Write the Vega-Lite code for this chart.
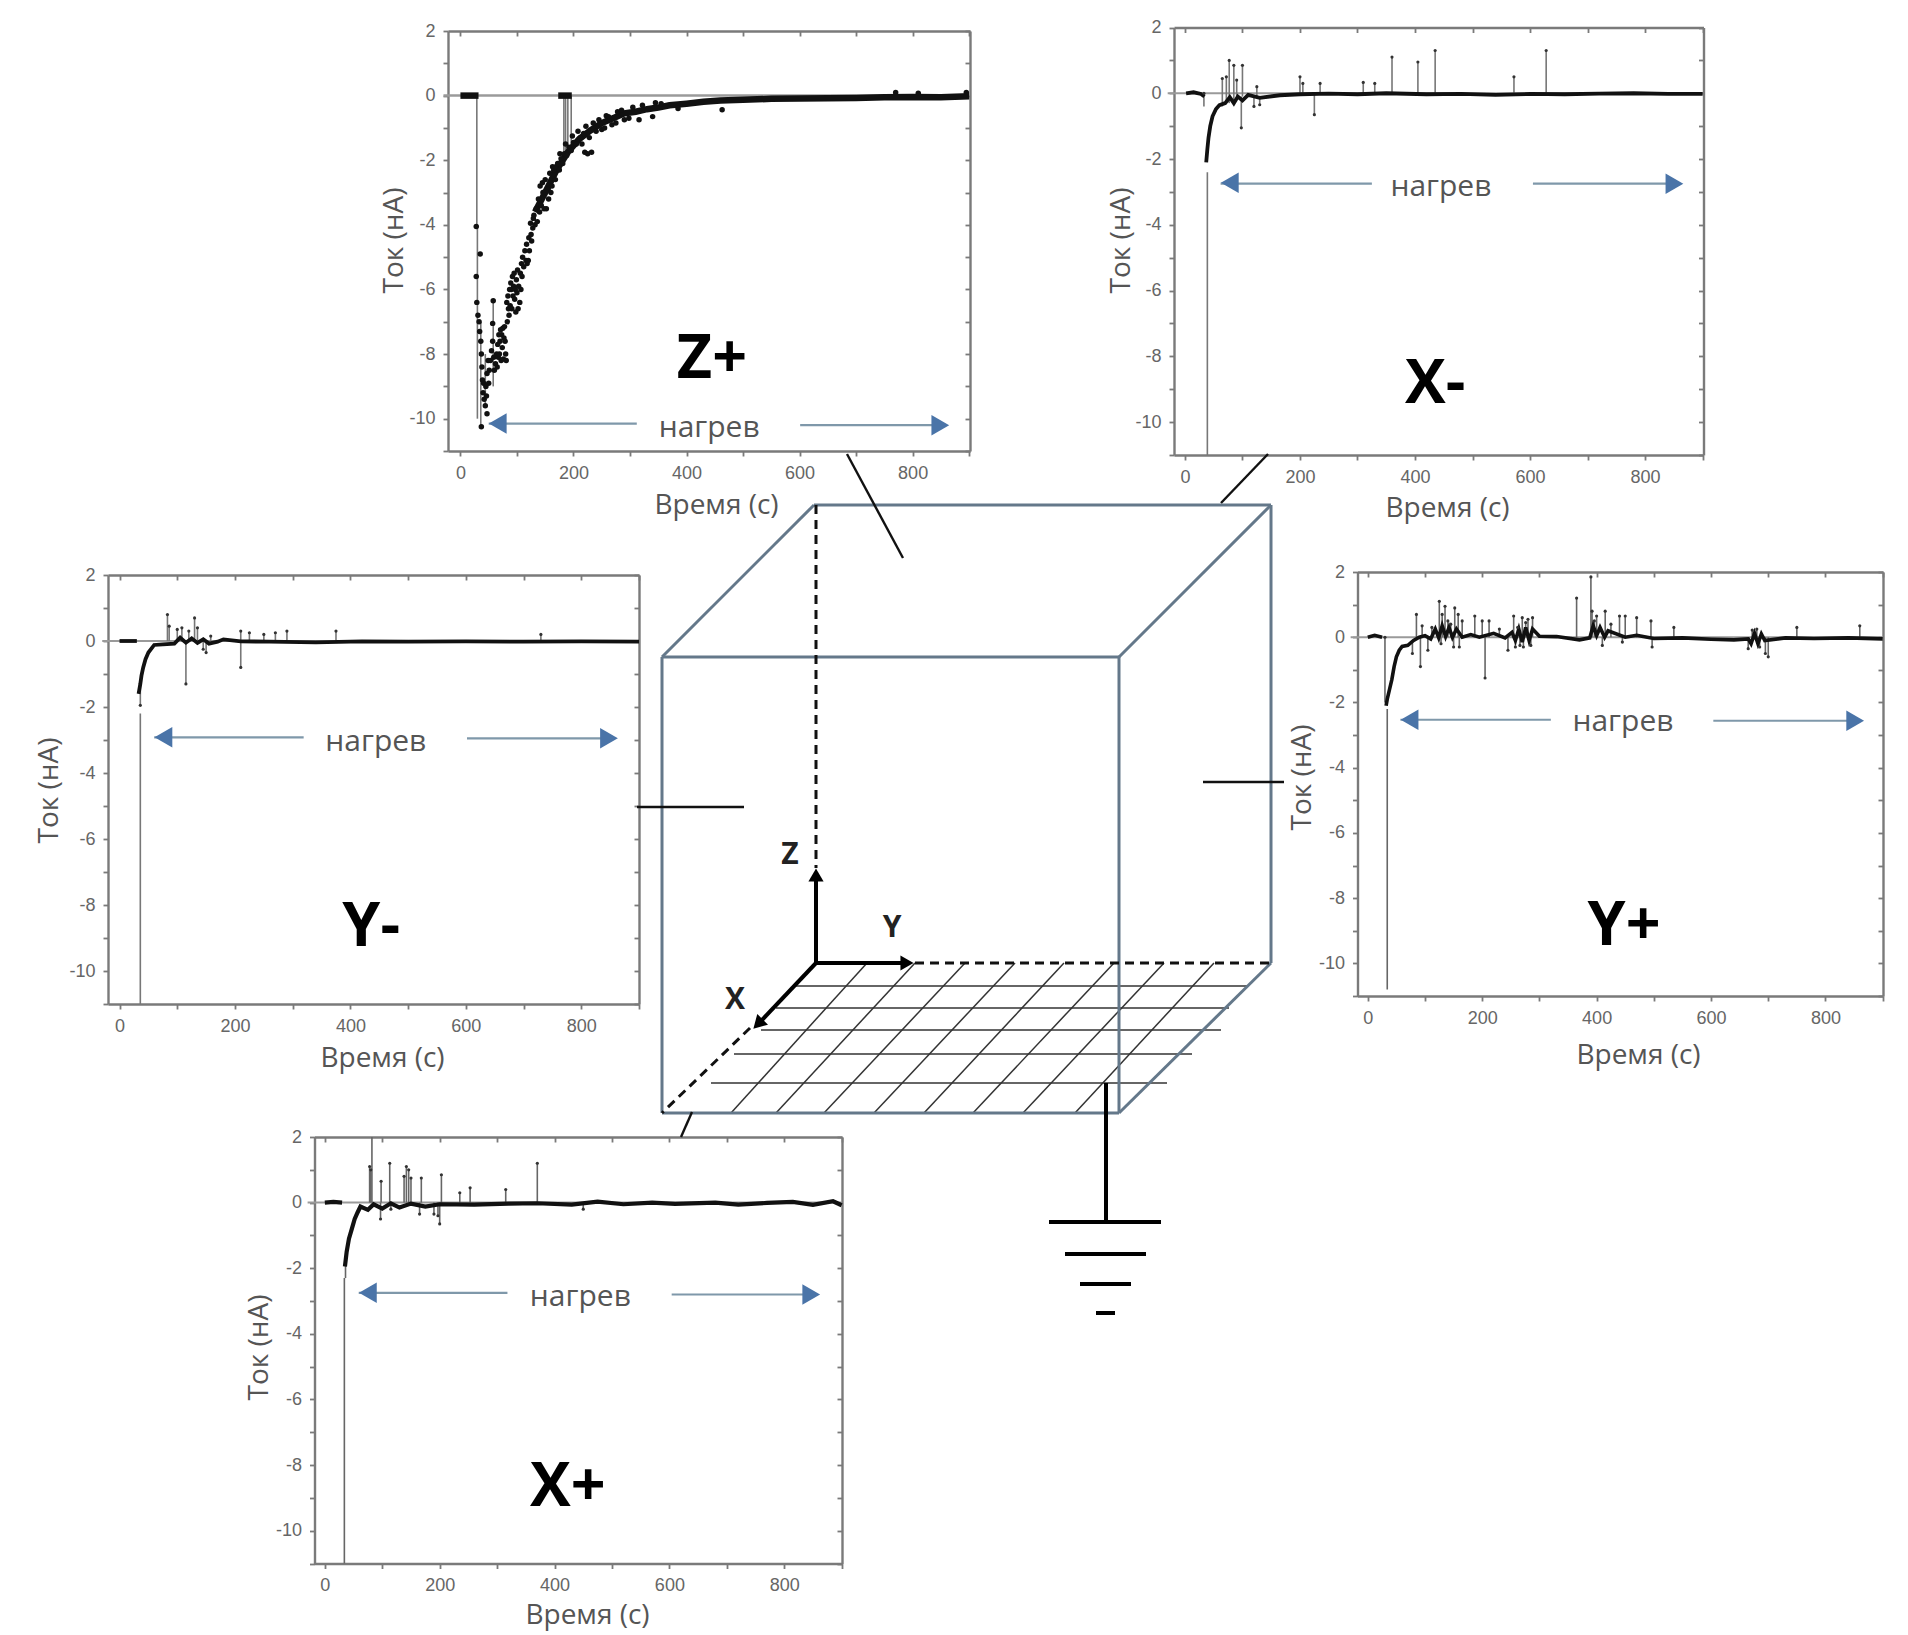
{"$schema":"https://vega.github.io/schema/vega-lite/v6.json","width":1908,"height":1635,"padding":0,"autosize":"none","background":"white","config":{"view":{"stroke":null},"axis":{"grid":false,"domainColor":"#7a7a7a","domainWidth":2.4,"tickColor":"#7a7a7a","tickWidth":1.8,"tickSize":5,"labelColor":"#666666","labelFont":"Liberation Sans","labelFontSize":18,"labelPadding":8,"labelOverlap":false,"labelBound":false,"labelFlush":false,"titleColor":"#555555","titleFont":"Open Sans","titleFontSize":28,"titleFontWeight":"normal","titleBaseline":"middle","titleAlign":"center"}},"resolve":{"scale":{"x":"independent","y":"independent"},"axis":{"x":"independent","y":"independent"}},
"datasets":{
"zero":[{"x":-30,"x2":900,"y":0}],
"zp_band":[{"g":"a","x":0,"y":0},{"g":"a","x":32,"y":0},{"g":"b","x":173,"y":0},{"g":"b","x":197,"y":0},{"g":"c","x":132,"y":-3.6},{"g":"c","x":150,"y":-3.0},{"g":"c","x":170,"y":-2.3},{"g":"c","x":190,"y":-1.75},{"g":"c","x":210,"y":-1.35},{"g":"c","x":230,"y":-1.08},{"g":"c","x":250,"y":-0.85},{"g":"c","x":270,"y":-0.7},{"g":"c","x":290,"y":-0.55},{"g":"c","x":310,"y":-0.5},{"g":"c","x":330,"y":-0.42},{"g":"c","x":350,"y":-0.37},{"g":"c","x":370,"y":-0.3},{"g":"c","x":400,"y":-0.25},{"g":"c","x":430,"y":-0.19},{"g":"c","x":460,"y":-0.15},{"g":"c","x":500,"y":-0.13},{"g":"c","x":550,"y":-0.1},{"g":"c","x":600,"y":-0.09},{"g":"c","x":650,"y":-0.08},{"g":"c","x":700,"y":-0.07},{"g":"c","x":750,"y":-0.05},{"g":"c","x":800,"y":-0.04},{"g":"c","x":850,"y":-0.05},{"g":"c","x":900,"y":-0.02}],
"zp_spk":[{"x":29,"y":0,"y2":-4.05},{"x":30,"y":-4,"y2":-10},{"x":36,"y":-7,"y2":-10.2},{"x":44,"y":-8,"y2":-9.6},{"x":58,"y":-6.3,"y2":-9},{"x":183,"y":0,"y2":-1.8},{"x":186,"y":0,"y2":-1.8},{"x":190,"y":0,"y2":-1.7},{"x":196,"y":0,"y2":-1.5}],
"zp_pts":[{"x":28,"y":-4.05},{"x":35,"y":-4.9},{"x":28,"y":-5.6},{"x":29,"y":-6.4},{"x":31,"y":-6.8},{"x":33,"y":-7},{"x":34,"y":-7.3},{"x":36,"y":-7.6},{"x":37,"y":-8},{"x":38,"y":-8.4},{"x":39,"y":-8.8},{"x":40,"y":-9.2},{"x":41,"y":-8.9},{"x":42,"y":-9.4},{"x":44,"y":-9.6},{"x":47,"y":-9.85},{"x":37,"y":-10.25},{"x":45,"y":-9},{"x":47,"y":-8.6},{"x":46,"y":-9.3},{"x":49,"y":-8.2},{"x":50,"y":-8.9},{"x":51,"y":-8.5},{"x":53,"y":-8.2},{"x":55,"y":-7.9},{"x":57,"y":-7.6},{"x":57,"y":-7.05},{"x":58,"y":-6.35},{"x":59,"y":-8.1},{"x":60,"y":-8.5},{"x":62,"y":-8.3},{"x":64,"y":-8},{"x":65,"y":-8.4},{"x":66,"y":-7.7},{"x":67,"y":-8.1},{"x":68,"y":-7.4},{"x":69,"y":-8},{"x":70,"y":-7.6},{"x":71,"y":-7.25},{"x":72,"y":-8.2},{"x":73,"y":-7.4},{"x":74,"y":-7.8},{"x":75,"y":-7.2},{"x":76,"y":-8.15},{"x":77,"y":-7.5},{"x":78,"y":-7.15},{"x":79,"y":-7.6},{"x":80,"y":-8},{"x":81,"y":-8.2},{"x":83,"y":-7},{"x":82,"y":-6.4},{"x":84,"y":-6.2},{"x":85,"y":-6.6},{"x":86,"y":-6.8},{"x":87,"y":-6},{"x":88,"y":-6.5},{"x":89,"y":-5.8},{"x":90,"y":-6},{"x":91,"y":-6.6},{"x":92,"y":-5.6},{"x":93,"y":-6.2},{"x":94,"y":-5.9},{"x":95,"y":-5.5},{"x":96,"y":-6.3},{"x":97,"y":-6},{"x":98,"y":-6.7},{"x":99,"y":-5.7},{"x":100,"y":-6.1},{"x":101,"y":-5.4},{"x":102,"y":-6.6},{"x":103,"y":-5.9},{"x":105,"y":-6.4},{"x":106,"y":-5.5},{"x":107,"y":-6},{"x":108,"y":-5.2},{"x":109,"y":-5.6},{"x":110,"y":-5},{"x":112,"y":-5.3},{"x":114,"y":-4.8},{"x":116,"y":-5.1},{"x":117,"y":-4.6},{"x":118,"y":-5.2},{"x":120,"y":-5.1},{"x":121,"y":-4.4},{"x":122,"y":-4.8},{"x":124,"y":-3.95},{"x":125,"y":-4.3},{"x":126,"y":-4.5},{"x":128,"y":-4.1},{"x":129,"y":-3.8},{"x":130,"y":-3.7},{"x":132,"y":-4},{"x":134,"y":-3.5},{"x":136,"y":-3.9},{"x":138,"y":-3.2},{"x":140,"y":-3.6},{"x":141,"y":-2.8},{"x":143,"y":-3.4},{"x":145,"y":-2.7},{"x":146,"y":-3},{"x":148,"y":-3.5},{"x":152,"y":-3.5},{"x":150,"y":-2.6},{"x":155,"y":-2.9},{"x":156,"y":-3.2},{"x":158,"y":-2.4},{"x":160,"y":-3},{"x":162,"y":-2.8},{"x":163,"y":-2.2},{"x":165,"y":-2.3},{"x":168,"y":-2.6},{"x":169,"y":-2.2},{"x":172,"y":-2.1},{"x":175,"y":-2.3},{"x":176,"y":-1.8},{"x":178,"y":-1.95},{"x":181,"y":-2.1},{"x":184,"y":-1.8},{"x":186,"y":-1.5},{"x":188,"y":-1.85},{"x":192,"y":-1.6},{"x":196,"y":-1.7},{"x":198,"y":-1.25},{"x":200,"y":-1.45},{"x":205,"y":-1.5},{"x":208,"y":-1.1},{"x":212,"y":-1.3},{"x":215,"y":-1.5},{"x":218,"y":-1.17},{"x":220,"y":-1.75},{"x":222,"y":-0.95},{"x":225,"y":-1.8},{"x":228,"y":-1.3},{"x":232,"y":-1.75},{"x":235,"y":-0.85},{"x":240,"y":-1.1},{"x":245,"y":-0.75},{"x":250,"y":-1.05},{"x":255,"y":-1},{"x":258,"y":-0.62},{"x":262,"y":-0.65},{"x":268,"y":-0.9},{"x":275,"y":-0.85},{"x":278,"y":-0.5},{"x":285,"y":-0.45},{"x":290,"y":-0.75},{"x":298,"y":-0.7},{"x":305,"y":-0.36},{"x":316,"y":-0.75},{"x":322,"y":-0.3},{"x":340,"y":-0.65},{"x":345,"y":-0.22},{"x":355,"y":-0.25},{"x":385,"y":-0.4},{"x":463,"y":-0.44},{"x":770,"y":0.1},{"x":810,"y":0.07},{"x":895,"y":0.1}],
"xm_band":[{"g":"a","x":2,"y":0},{"g":"a","x":15,"y":0.03},{"g":"a","x":28,"y":-0.02},{"g":"a","x":34,"y":-0.1},{"g":"c","x":37,"y":-2.1},{"g":"c","x":39,"y":-1.7},{"g":"c","x":41,"y":-1.35},{"g":"c","x":44,"y":-1},{"g":"c","x":48,"y":-0.7},{"g":"c","x":54,"y":-0.48},{"g":"c","x":60,"y":-0.36},{"g":"c","x":70,"y":-0.3},{"g":"c","x":78,"y":-0.12},{"g":"c","x":85,"y":-0.3},{"g":"c","x":92,"y":-0.1},{"g":"c","x":100,"y":-0.22},{"g":"c","x":110,"y":-0.05},{"g":"c","x":130,"y":-0.14},{"g":"c","x":165,"y":-0.06},{"g":"c","x":200,"y":-0.03},{"g":"c","x":250,"y":-0.01},{"g":"c","x":300,"y":-0.03},{"g":"c","x":350,"y":0},{"g":"c","x":420,"y":-0.03},{"g":"c","x":480,"y":-0.02},{"g":"c","x":540,"y":-0.05},{"g":"c","x":600,"y":-0.02},{"g":"c","x":660,"y":-0.03},{"g":"c","x":720,"y":-0.01},{"g":"c","x":780,"y":0},{"g":"c","x":840,"y":-0.02},{"g":"c","x":900,"y":-0.02}],
"xm_spk":[{"x":39,"y":-2.4,"y2":-11},{"x":33,"y":0,"y2":-0.4},{"x":65,"y":0.45,"y2":-0.4},{"x":72,"y":0.5,"y2":-0.3},{"x":77,"y":1,"y2":-0.3},{"x":85,"y":0.85,"y2":-0.3},{"x":90,"y":0.4,"y2":-0.2},{"x":100,"y":0.85,"y2":-0.1},{"x":98,"y":-1.05,"y2":-0.1},{"x":125,"y":0.2,"y2":-0.1},{"x":120,"y":-0.4,"y2":-0.1},{"x":130,"y":-0.35,"y2":-0.1},{"x":200,"y":0.5,"y2":0},{"x":205,"y":0.3,"y2":0},{"x":225,"y":-0.65,"y2":0},{"x":235,"y":0.3,"y2":0},{"x":310,"y":0.33,"y2":0},{"x":330,"y":0.3,"y2":0},{"x":360,"y":1.1,"y2":0},{"x":405,"y":0.95,"y2":0},{"x":435,"y":1.3,"y2":0},{"x":572,"y":0.5,"y2":0},{"x":628,"y":1.3,"y2":0}],
"ym_band":[{"g":"a","x":0,"y":0},{"g":"a","x":30,"y":0},{"g":"c","x":33,"y":-1.6},{"g":"c","x":36,"y":-1.3},{"g":"c","x":38,"y":-1.05},{"g":"c","x":41,"y":-0.8},{"g":"c","x":45,"y":-0.55},{"g":"c","x":50,"y":-0.35},{"g":"c","x":60,"y":-0.12},{"g":"c","x":75,"y":-0.1},{"g":"c","x":95,"y":-0.08},{"g":"c","x":105,"y":0.1},{"g":"c","x":115,"y":-0.05},{"g":"c","x":125,"y":0.08},{"g":"c","x":135,"y":-0.06},{"g":"c","x":145,"y":0.05},{"g":"c","x":155,"y":-0.08},{"g":"c","x":170,"y":-0.02},{"g":"c","x":180,"y":0.05},{"g":"c","x":210,"y":-0.01},{"g":"c","x":260,"y":-0.02},{"g":"c","x":340,"y":-0.04},{"g":"c","x":420,"y":-0.01},{"g":"c","x":500,"y":-0.02},{"g":"c","x":600,"y":-0.01},{"g":"c","x":700,"y":-0.02},{"g":"c","x":800,"y":-0.01},{"g":"c","x":900,"y":-0.02}],
"ym_spk":[{"x":36,"y":-2.2,"y2":-11},{"x":36,"y":-1.95,"y2":-1.2},{"x":83,"y":0.8,"y2":0},{"x":86,"y":0.45,"y2":0},{"x":100,"y":0.35,"y2":0},{"x":108,"y":0.4,"y2":0},{"x":115,"y":-1.3,"y2":0},{"x":120,"y":0.3,"y2":0},{"x":130,"y":0.7,"y2":0},{"x":135,"y":0.4,"y2":0},{"x":145,"y":-0.25,"y2":0},{"x":150,"y":-0.35,"y2":0},{"x":158,"y":0.15,"y2":0},{"x":210,"y":0.3,"y2":0},{"x":210,"y":-0.8,"y2":0},{"x":225,"y":0.25,"y2":0},{"x":250,"y":0.2,"y2":0},{"x":270,"y":0.25,"y2":0},{"x":290,"y":0.3,"y2":0},{"x":375,"y":0.3,"y2":0},{"x":730,"y":0.2,"y2":0}],
"yp_band":[{"g":"a","x":0,"y":0},{"g":"a","x":12,"y":0.06},{"g":"a","x":25,"y":0},{"g":"c","x":32,"y":-2.1},{"g":"c","x":34,"y":-1.9},{"g":"c","x":38,"y":-1.6},{"g":"c","x":42,"y":-1.3},{"g":"c","x":46,"y":-0.9},{"g":"c","x":50,"y":-0.6},{"g":"c","x":55,"y":-0.4},{"g":"c","x":60,"y":-0.28},{"g":"c","x":70,"y":-0.25},{"g":"c","x":80,"y":-0.1},{"g":"c","x":90,"y":0},{"g":"c","x":100,"y":0.05},{"g":"c","x":110,"y":-0.05},{"g":"c","x":118,"y":0.25},{"g":"c","x":124,"y":-0.02},{"g":"c","x":130,"y":0.35},{"g":"c","x":136,"y":0.02},{"g":"c","x":142,"y":0.3},{"g":"c","x":148,"y":0},{"g":"c","x":155,"y":0.25},{"g":"c","x":165,"y":0},{"g":"c","x":180,"y":0.08},{"g":"c","x":195,"y":0},{"g":"c","x":220,"y":0.12},{"g":"c","x":240,"y":-0.02},{"g":"c","x":252,"y":0.15},{"g":"c","x":258,"y":-0.1},{"g":"c","x":264,"y":0.25},{"g":"c","x":270,"y":-0.15},{"g":"c","x":276,"y":0.3},{"g":"c","x":282,"y":-0.1},{"g":"c","x":288,"y":0.25},{"g":"c","x":300,"y":0.03},{"g":"c","x":330,"y":0.02},{"g":"c","x":370,"y":-0.08},{"g":"c","x":388,"y":-0.02},{"g":"c","x":394,"y":0.35},{"g":"c","x":400,"y":0.05},{"g":"c","x":406,"y":0.3},{"g":"c","x":414,"y":0},{"g":"c","x":420,"y":0.2},{"g":"c","x":450,"y":0},{"g":"c","x":470,"y":0.06},{"g":"c","x":500,"y":-0.04},{"g":"c","x":550,"y":-0.02},{"g":"c","x":600,"y":-0.06},{"g":"c","x":640,"y":-0.08},{"g":"c","x":665,"y":-0.05},{"g":"c","x":670,"y":-0.2},{"g":"c","x":676,"y":0.12},{"g":"c","x":682,"y":-0.2},{"g":"c","x":688,"y":0.1},{"g":"c","x":694,"y":-0.1},{"g":"c","x":730,"y":-0.02},{"g":"c","x":780,"y":-0.04},{"g":"c","x":840,"y":-0.02},{"g":"c","x":900,"y":-0.05}],
"yp_spk":[{"x":34,"y":-2.2,"y2":-10.8},{"x":30,"y":0,"y2":-2},{"x":85,"y":0.7,"y2":0},{"x":78,"y":-0.5,"y2":-0.1},{"x":92,"y":-0.9,"y2":0},{"x":95,"y":0.35,"y2":0},{"x":105,"y":-0.4,"y2":0},{"x":112,"y":0.3,"y2":0},{"x":125,"y":1.1,"y2":0},{"x":128,"y":-0.2,"y2":0},{"x":130,"y":0.7,"y2":0},{"x":135,"y":0.95,"y2":0},{"x":140,"y":0.5,"y2":0},{"x":145,"y":0.4,"y2":0},{"x":150,"y":-0.3,"y2":0},{"x":152,"y":0.9,"y2":0},{"x":158,"y":0.7,"y2":0},{"x":160,"y":-0.3,"y2":0},{"x":165,"y":0.5,"y2":0},{"x":187,"y":0.65,"y2":0},{"x":200,"y":0.5,"y2":0},{"x":205,"y":-1.25,"y2":0},{"x":212,"y":0.5,"y2":0},{"x":230,"y":0.25,"y2":0},{"x":245,"y":-0.4,"y2":0},{"x":255,"y":0.65,"y2":0},{"x":258,"y":-0.3,"y2":0},{"x":262,"y":0.3,"y2":0},{"x":266,"y":-0.25,"y2":0},{"x":270,"y":0.6,"y2":0},{"x":272,"y":-0.3,"y2":0},{"x":276,"y":0.45,"y2":0},{"x":280,"y":0.55,"y2":0},{"x":285,"y":-0.25,"y2":0},{"x":288,"y":0.6,"y2":0},{"x":365,"y":1.2,"y2":0},{"x":390,"y":1.85,"y2":0},{"x":392,"y":0.8,"y2":0},{"x":396,"y":0.5,"y2":0},{"x":400,"y":0.65,"y2":0},{"x":410,"y":-0.25,"y2":0},{"x":415,"y":0.8,"y2":0},{"x":425,"y":0.4,"y2":0},{"x":440,"y":0.65,"y2":0},{"x":445,"y":-0.15,"y2":0},{"x":450,"y":0.65,"y2":0},{"x":470,"y":0.6,"y2":0},{"x":495,"y":0.5,"y2":0},{"x":497,"y":-0.3,"y2":0},{"x":535,"y":0.3,"y2":0},{"x":665,"y":-0.35,"y2":0},{"x":672,"y":0.22,"y2":0},{"x":680,"y":0.25,"y2":0},{"x":685,"y":-0.3,"y2":0},{"x":695,"y":-0.5,"y2":0},{"x":700,"y":-0.6,"y2":0},{"x":750,"y":0.3,"y2":0},{"x":860,"y":0.35,"y2":0}],
"xp_band":[{"g":"a","x":0,"y":0},{"g":"a","x":15,"y":0.02},{"g":"a","x":30,"y":0},{"g":"c","x":35,"y":-1.95},{"g":"c","x":38,"y":-1.5},{"g":"c","x":42,"y":-1.1},{"g":"c","x":47,"y":-0.8},{"g":"c","x":52,"y":-0.5},{"g":"c","x":57,"y":-0.3},{"g":"c","x":62,"y":-0.12},{"g":"c","x":75,"y":-0.22},{"g":"c","x":85,"y":-0.05},{"g":"c","x":100,"y":-0.18},{"g":"c","x":115,"y":-0.02},{"g":"c","x":130,"y":-0.15},{"g":"c","x":150,"y":-0.03},{"g":"c","x":175,"y":-0.12},{"g":"c","x":200,"y":-0.05},{"g":"c","x":260,"y":-0.06},{"g":"c","x":320,"y":-0.03},{"g":"c","x":370,"y":-0.02},{"g":"c","x":430,"y":-0.06},{"g":"c","x":475,"y":0.03},{"g":"c","x":520,"y":-0.05},{"g":"c","x":570,"y":0},{"g":"c","x":610,"y":-0.04},{"g":"c","x":680,"y":0},{"g":"c","x":720,"y":-0.06},{"g":"c","x":770,"y":-0.01},{"g":"c","x":815,"y":0.02},{"g":"c","x":850,"y":-0.07},{"g":"c","x":885,"y":0.04},{"g":"c","x":900,"y":-0.08}],
"xp_spk":[{"x":34,"y":-2.3,"y2":-11},{"x":36,"y":-2.3,"y2":-1.9},{"x":78,"y":1.1,"y2":0},{"x":80,"y":1,"y2":0},{"x":82,"y":2,"y2":0},{"x":98,"y":0.65,"y2":0},{"x":97,"y":-0.5,"y2":0},{"x":113,"y":1.2,"y2":0},{"x":115,"y":-0.2,"y2":0},{"x":138,"y":0.8,"y2":0},{"x":142,"y":1.1,"y2":0},{"x":146,"y":1,"y2":0},{"x":150,"y":0.75,"y2":0},{"x":168,"y":0.75,"y2":0},{"x":165,"y":-0.35,"y2":0},{"x":190,"y":-0.35,"y2":0},{"x":197,"y":-0.4,"y2":0},{"x":200,"y":-0.65,"y2":0},{"x":203,"y":0.85,"y2":0},{"x":235,"y":0.3,"y2":0},{"x":253,"y":0.45,"y2":0},{"x":315,"y":0.4,"y2":0},{"x":370,"y":1.2,"y2":0},{"x":450,"y":-0.2,"y2":0}],
"cube":[{"a":814,"b":505,"a2":1271,"b2":505},{"a":814,"b":505,"a2":662,"b2":657},{"a":1271,"b":505,"a2":1119,"b2":657},{"a":662,"b":657,"a2":1119,"b2":657},{"a":662,"b":657,"a2":662,"b2":1113},{"a":1119,"b":657,"a2":1119,"b2":1113},{"a":662,"b":1113,"a2":1119,"b2":1113},{"a":1271,"b":505,"a2":1271,"b2":963},{"a":1119,"b":1113,"a2":1271,"b2":963}],
"dash":[{"a":816,"b":505,"a2":816,"b2":868},{"a":915,"b":963,"a2":1271,"b2":963},{"a":750,"b":1028,"a2":662,"b2":1113}],
"grid":[{"a":793,"b":986,"a2":1247,"b2":986},{"a":776,"b":1008,"a2":1229,"b2":1008},{"a":761,"b":1030,"a2":1221,"b2":1030},{"a":734,"b":1054,"a2":1192,"b2":1054},{"a":711,"b":1083,"a2":1167,"b2":1083},{"a":867,"b":963,"a2":731,"b2":1113},{"a":915,"b":963,"a2":776,"b2":1113},{"a":965,"b":963,"a2":824,"b2":1113},{"a":1015,"b":963,"a2":874,"b2":1113},{"a":1064,"b":963,"a2":924,"b2":1113},{"a":1114,"b":963,"a2":973,"b2":1113},{"a":1164,"b":963,"a2":1023,"b2":1113},{"a":1214,"b":963,"a2":1075,"b2":1113}],
"conn":[{"a":847,"b":454,"a2":903,"b2":558},{"a":1268,"b":454,"a2":1221,"b2":503},{"a":637,"b":807,"a2":744,"b2":807},{"a":1203,"b":782,"a2":1284,"b2":782},{"a":692,"b":1112,"a2":681,"b2":1137}],
"ground":[{"a":1106,"b":1083,"a2":1106,"b2":1222},{"a":1049,"b":1222,"a2":1161,"b2":1222},{"a":1065,"b":1254,"a2":1146,"b2":1254},{"a":1080,"b":1284,"a2":1131,"b2":1284},{"a":1096,"b":1313,"a2":1115,"b2":1313}],
"axes3d":[{"a":816,"b":963,"a2":816,"b2":880},{"a":816,"b":963,"a2":902,"b2":963},{"a":816,"b":963,"a2":762,"b2":1020}],
"heads":[{"a":816,"b":875,"r":0},{"a":907,"b":963,"r":90},{"a":758,"b":1024,"r":225}],
"letters":[{"a":790,"b":855,"t":"Z"},{"a":892,"b":928,"t":"Y"},{"a":735,"b":1000,"t":"X"}]
},
"layer":[
{"encoding":{"x":{"field":"a","type":"quantitative","scale":{"domain":[0,1908],"range":[0,1908]},"axis":null},"y":{"field":"b","type":"quantitative","scale":{"domain":[0,1635],"range":[0,1635]},"axis":null}},
"layer":[
{"data":{"name":"grid"},"mark":{"type":"rule","color":"#333333","strokeWidth":1.5},"encoding":{"x2":{"field":"a2"},"y2":{"field":"b2"}}},
{"data":{"name":"cube"},"mark":{"type":"rule","color":"#64788a","strokeWidth":3},"encoding":{"x2":{"field":"a2"},"y2":{"field":"b2"}}},
{"data":{"name":"dash"},"mark":{"type":"rule","color":"#111111","strokeWidth":3,"strokeDash":[9,6]},"encoding":{"x2":{"field":"a2"},"y2":{"field":"b2"}}},
{"data":{"name":"conn"},"mark":{"type":"rule","color":"#111111","strokeWidth":2.4},"encoding":{"x2":{"field":"a2"},"y2":{"field":"b2"}}},
{"data":{"name":"ground"},"mark":{"type":"rule","color":"#000000","strokeWidth":4},"encoding":{"x2":{"field":"a2"},"y2":{"field":"b2"}}},
{"data":{"name":"axes3d"},"mark":{"type":"rule","color":"#000000","strokeWidth":4},"encoding":{"x2":{"field":"a2"},"y2":{"field":"b2"}}},
{"data":{"name":"heads"},"mark":{"type":"point","shape":"triangle-up","filled":true,"opacity":1,"color":"#000000","size":230},"encoding":{"angle":{"field":"r","type":"quantitative","scale":null}}},
{"data":{"name":"letters"},"mark":{"type":"text","font":"Open Sans","fontWeight":"bold","fontSize":30,"color":"#222222"},"encoding":{"text":{"field":"t"}}}
]},
{"encoding":{"x":{"field":"x","type":"quantitative","scale":{"domain":[-22,901.5],"range":[448,970]},"axis":null},"y":{"field":"y","type":"quantitative","scale":{"domain":[-11,2],"range":[451,31]},"axis":null}},"resolve":{"axis":{"x":"independent","y":"independent"}},
"layer":[
{"data":{"name":"zero"},"mark":{"type":"rule","color":"#9a9a9a","strokeWidth":2.5},"encoding":{"x2":{"field":"x2"},"x":{"field":"x","type":"quantitative","scale":{"domain":[-22,901.5],"range":[448,970]},"axis":{"orient":"bottom","offset":-1184,"values":[0,100,200,300,400,500,600,700,800,900],"labelExpr":"datum.value%200==0?''+datum.value:''","title":"Время (с)","titleX":716,"titleY":54}},"y":{"field":"y","type":"quantitative","scale":{"domain":[-11,2],"range":[451,31]},"axis":{"orient":"left","offset":-448,"values":[-11,-10,-9,-8,-7,-6,-5,-4,-3,-2,-1,0,1,2],"labelExpr":"datum.value%2==0?''+datum.value:''","title":"Ток (нА)","titleX":-54,"titleY":240}}}},
{"data":{"name":"zero"},"mark":{"type":"rule","opacity":0},"encoding":{"x2":{"field":"x2"},"x":{"field":"x","type":"quantitative","axis":{"orient":"top","offset":-31,"values":[0,100,200,300,400,500,600,700,800,900],"labels":false,"title":null,"tickSize":-5}},"y":{"field":"y","type":"quantitative","axis":{"orient":"right","offset":-938,"values":[-11,-10,-9,-8,-7,-6,-5,-4,-3,-2,-1,0,1,2],"labels":false,"title":null,"tickSize":-5}}}},
{"data":{"name":"zp_spk"},"mark":{"type":"rule","color":"#777777","strokeWidth":1.6},"encoding":{"y2":{"field":"y2"}}},
{"data":{"name":"zp_band"},"mark":{"type":"line","color":"#111111","strokeWidth":6.5},"encoding":{"detail":{"field":"g"}}},
{"data":{"name":"zp_pts"},"mark":{"type":"point","filled":true,"opacity":1,"color":"#111111","size":30}},
{"data":{"values":[{"x":50,"x2":312,"y":-10.15},{"x":601,"x2":850,"y":-10.2}]},"mark":{"type":"rule","color":"#7f98aa","strokeWidth":2.2},"encoding":{"x2":{"field":"x2"}}},
{"data":{"values":[{"x":66,"y":-10.15,"d":"l"},{"x":849,"y":-10.2,"d":"r"}]},"mark":{"type":"point","filled":true,"opacity":1,"color":"#4a74a8","size":420},"encoding":{"shape":{"field":"d","scale":{"domain":["l","r"],"range":["triangle-left","triangle-right"]},"legend":null}}},
{"data":{"values":[{"x":440,"y":-10.28,"t":"нагрев"}]},"mark":{"type":"text","font":"Open Sans","fontSize":30,"color":"#555555"},"encoding":{"text":{"field":"t"}}},
{"data":{"values":[{"x":445,"y":-8.03,"t":"Z+"}]},"mark":{"type":"text","font":"Open Sans","fontWeight":"bold","fontSize":61,"color":"#000000","dy":5},"encoding":{"text":{"field":"t"}}}
]},
{"encoding":{"x":{"field":"x","type":"quantitative","scale":{"domain":[-19,901.5],"range":[1174,1703.5]},"axis":null},"y":{"field":"y","type":"quantitative","scale":{"domain":[-11,2],"range":[455,27.5]},"axis":null}},"resolve":{"axis":{"x":"independent","y":"independent"}},
"layer":[
{"data":{"name":"zero"},"mark":{"type":"rule","color":"#9a9a9a","strokeWidth":2},"encoding":{"x2":{"field":"x2"},"x":{"field":"x","type":"quantitative","scale":{"domain":[-19,901.5],"range":[1174,1703.5]},"axis":{"orient":"bottom","offset":-1180,"values":[0,100,200,300,400,500,600,700,800,900],"labelExpr":"datum.value%200==0?''+datum.value:''","title":"Время (с)","titleX":1447,"titleY":53}},"y":{"field":"y","type":"quantitative","scale":{"domain":[-11,2],"range":[455,27.5]},"axis":{"orient":"left","offset":-1174,"values":[-11,-10,-9,-8,-7,-6,-5,-4,-3,-2,-1,0,1,2],"labelExpr":"datum.value%2==0?''+datum.value:''","title":"Ток (нА)","titleX":-53,"titleY":240}}}},
{"data":{"name":"zero"},"mark":{"type":"rule","opacity":0},"encoding":{"x2":{"field":"x2"},"x":{"field":"x","type":"quantitative","axis":{"orient":"top","offset":-27.5,"values":[0,100,200,300,400,500,600,700,800,900],"labels":false,"title":null,"tickSize":-5}},"y":{"field":"y","type":"quantitative","axis":{"orient":"right","offset":-204.5,"values":[-11,-10,-9,-8,-7,-6,-5,-4,-3,-2,-1,0,1,2],"labels":false,"title":null,"tickSize":-5}}}},
{"data":{"name":"xm_spk"},"mark":{"type":"rule","color":"#777777","strokeWidth":1.6},"encoding":{"y2":{"field":"y2"}}},
{"data":{"name":"xm_band"},"mark":{"type":"line","color":"#111111","strokeWidth":3.8},"encoding":{"detail":{"field":"g"}}},
{"data":{"name":"xm_spk"},"transform":[{"filter":"datum.y>-2"}],"mark":{"type":"point","filled":true,"opacity":1,"color":"#333333","size":10}},
{"data":{"values":[{"x":62,"x2":325,"y":-2.75},{"x":605,"x2":850,"y":-2.75}]},"mark":{"type":"rule","color":"#7f98aa","strokeWidth":2.2},"encoding":{"x2":{"field":"x2"}}},
{"data":{"values":[{"x":78,"y":-2.72,"d":"l"},{"x":851,"y":-2.75,"d":"r"}]},"mark":{"type":"point","filled":true,"opacity":1,"color":"#4a74a8","size":420},"encoding":{"shape":{"field":"d","scale":{"domain":["l","r"],"range":["triangle-left","triangle-right"]},"legend":null}}},
{"data":{"values":[{"x":445,"y":-2.85,"t":"нагрев"}]},"mark":{"type":"text","font":"Open Sans","fontSize":30,"color":"#555555"},"encoding":{"text":{"field":"t"}}},
{"data":{"values":[{"x":435,"y":-8.72,"t":"X-"}]},"mark":{"type":"text","font":"Open Sans","fontWeight":"bold","fontSize":61,"color":"#000000","dy":5},"encoding":{"text":{"field":"t"}}}
]},
{"encoding":{"x":{"field":"x","type":"quantitative","scale":{"domain":[-20,900],"range":[108,639]},"axis":null},"y":{"field":"y","type":"quantitative","scale":{"domain":[-11,2],"range":[1004,575]},"axis":null}},"resolve":{"axis":{"x":"independent","y":"independent"}},
"layer":[
{"data":{"name":"zero"},"mark":{"type":"rule","color":"#9a9a9a","strokeWidth":2},"encoding":{"x2":{"field":"x2"},"x":{"field":"x","type":"quantitative","scale":{"domain":[-20,900],"range":[108,639]},"axis":{"orient":"bottom","offset":-631,"values":[0,100,200,300,400,500,600,700,800,900],"labelExpr":"datum.value%200==0?''+datum.value:''","title":"Время (с)","titleX":382,"titleY":54}},"y":{"field":"y","type":"quantitative","scale":{"domain":[-11,2],"range":[1004,575]},"axis":{"orient":"left","offset":-108,"values":[-11,-10,-9,-8,-7,-6,-5,-4,-3,-2,-1,0,1,2],"labelExpr":"datum.value%2==0?''+datum.value:''","title":"Ток (нА)","titleX":-59,"titleY":790}}}},
{"data":{"name":"zero"},"mark":{"type":"rule","opacity":0},"encoding":{"x2":{"field":"x2"},"x":{"field":"x","type":"quantitative","axis":{"orient":"top","offset":-575,"values":[0,100,200,300,400,500,600,700,800,900],"labels":false,"title":null,"tickSize":-5}},"y":{"field":"y","type":"quantitative","axis":{"orient":"right","offset":-1269,"values":[-11,-10,-9,-8,-7,-6,-5,-4,-3,-2,-1,0,1,2],"labels":false,"title":null,"tickSize":-5}}}},
{"data":{"name":"ym_spk"},"mark":{"type":"rule","color":"#777777","strokeWidth":1.6},"encoding":{"y2":{"field":"y2"}}},
{"data":{"name":"ym_band"},"mark":{"type":"line","color":"#111111","strokeWidth":3.8},"encoding":{"detail":{"field":"g"}}},
{"data":{"name":"ym_spk"},"transform":[{"filter":"datum.y>-2.1"}],"mark":{"type":"point","filled":true,"opacity":1,"color":"#333333","size":10}},
{"data":{"values":[{"x":60,"x2":319,"y":-2.92},{"x":602,"x2":850,"y":-2.95}]},"mark":{"type":"rule","color":"#7f98aa","strokeWidth":2.2},"encoding":{"x2":{"field":"x2"}}},
{"data":{"values":[{"x":76,"y":-2.92,"d":"l"},{"x":848,"y":-2.95,"d":"r"}]},"mark":{"type":"point","filled":true,"opacity":1,"color":"#4a74a8","size":420},"encoding":{"shape":{"field":"d","scale":{"domain":["l","r"],"range":["triangle-left","triangle-right"]},"legend":null}}},
{"data":{"values":[{"x":444,"y":-3.05,"t":"нагрев"}]},"mark":{"type":"text","font":"Open Sans","fontSize":30,"color":"#555555"},"encoding":{"text":{"field":"t"}}},
{"data":{"values":[{"x":436,"y":-8.55,"t":"Y-"}]},"mark":{"type":"text","font":"Open Sans","fontWeight":"bold","fontSize":61,"color":"#000000","dy":5},"encoding":{"text":{"field":"t"}}}
]},
{"encoding":{"x":{"field":"x","type":"quantitative","scale":{"domain":[-18,900.6],"range":[1357.5,1883]},"axis":null},"y":{"field":"y","type":"quantitative","scale":{"domain":[-11,2],"range":[996,572]},"axis":null}},"resolve":{"axis":{"x":"independent","y":"independent"}},
"layer":[
{"data":{"name":"zero"},"mark":{"type":"rule","color":"#9a9a9a","strokeWidth":2},"encoding":{"x2":{"field":"x2"},"x":{"field":"x","type":"quantitative","scale":{"domain":[-18,900.6],"range":[1357.5,1883]},"axis":{"orient":"bottom","offset":-639,"values":[0,100,200,300,400,500,600,700,800,900],"labelExpr":"datum.value%200==0?''+datum.value:''","title":"Время (с)","titleX":1638,"titleY":59}},"y":{"field":"y","type":"quantitative","scale":{"domain":[-11,2],"range":[996,572]},"axis":{"orient":"left","offset":-1357.5,"values":[-11,-10,-9,-8,-7,-6,-5,-4,-3,-2,-1,0,1,2],"labelExpr":"datum.value%2==0?''+datum.value:''","title":"Ток (нА)","titleX":-55,"titleY":777}}}},
{"data":{"name":"zero"},"mark":{"type":"rule","opacity":0},"encoding":{"x2":{"field":"x2"},"x":{"field":"x","type":"quantitative","axis":{"orient":"top","offset":-572,"values":[0,100,200,300,400,500,600,700,800,900],"labels":false,"title":null,"tickSize":-5}},"y":{"field":"y","type":"quantitative","axis":{"orient":"right","offset":-25,"values":[-11,-10,-9,-8,-7,-6,-5,-4,-3,-2,-1,0,1,2],"labels":false,"title":null,"tickSize":-5}}}},
{"data":{"name":"yp_spk"},"mark":{"type":"rule","color":"#666666","strokeWidth":1.6},"encoding":{"y2":{"field":"y2"}}},
{"data":{"name":"yp_band"},"mark":{"type":"line","color":"#111111","strokeWidth":3.6},"encoding":{"detail":{"field":"g"}}},
{"data":{"name":"yp_spk"},"transform":[{"filter":"datum.y>-2"}],"mark":{"type":"point","filled":true,"opacity":1,"color":"#333333","size":10}},
{"data":{"values":[{"x":57,"x2":320,"y":-2.53},{"x":604,"x2":850,"y":-2.56}]},"mark":{"type":"rule","color":"#7f98aa","strokeWidth":2.2},"encoding":{"x2":{"field":"x2"}}},
{"data":{"values":[{"x":73,"y":-2.53,"d":"l"},{"x":852,"y":-2.56,"d":"r"}]},"mark":{"type":"point","filled":true,"opacity":1,"color":"#4a74a8","size":420},"encoding":{"shape":{"field":"d","scale":{"domain":["l","r"],"range":["triangle-left","triangle-right"]},"legend":null}}},
{"data":{"values":[{"x":446,"y":-2.6,"t":"нагрев"}]},"mark":{"type":"text","font":"Open Sans","fontSize":30,"color":"#555555"},"encoding":{"text":{"field":"t"}}},
{"data":{"values":[{"x":448,"y":-8.72,"t":"Y+"}]},"mark":{"type":"text","font":"Open Sans","fontWeight":"bold","fontSize":61,"color":"#000000","dy":5},"encoding":{"text":{"field":"t"}}}
]},
{"encoding":{"x":{"field":"x","type":"quantitative","scale":{"domain":[-18,900.6],"range":[314.5,842]},"axis":null},"y":{"field":"y","type":"quantitative","scale":{"domain":[-11,2],"range":[1563.5,1137]},"axis":null}},"resolve":{"axis":{"x":"independent","y":"independent"}},
"layer":[
{"data":{"name":"zero"},"mark":{"type":"rule","color":"#9a9a9a","strokeWidth":2},"encoding":{"x2":{"field":"x2"},"x":{"field":"x","type":"quantitative","scale":{"domain":[-18,900.6],"range":[314.5,842]},"axis":{"orient":"bottom","offset":-71.5,"values":[0,100,200,300,400,500,600,700,800,900],"labelExpr":"datum.value%200==0?''+datum.value:''","title":"Время (с)","titleX":587,"titleY":52}},"y":{"field":"y","type":"quantitative","scale":{"domain":[-11,2],"range":[1563.5,1137]},"axis":{"orient":"left","offset":-314.5,"values":[-11,-10,-9,-8,-7,-6,-5,-4,-3,-2,-1,0,1,2],"labelExpr":"datum.value%2==0?''+datum.value:''","title":"Ток (нА)","titleX":-55,"titleY":1347}}}},
{"data":{"name":"zero"},"mark":{"type":"rule","opacity":0},"encoding":{"x2":{"field":"x2"},"x":{"field":"x","type":"quantitative","axis":{"orient":"top","offset":-1137,"values":[0,100,200,300,400,500,600,700,800,900],"labels":false,"title":null,"tickSize":-5}},"y":{"field":"y","type":"quantitative","axis":{"orient":"right","offset":-1066,"values":[-11,-10,-9,-8,-7,-6,-5,-4,-3,-2,-1,0,1,2],"labels":false,"title":null,"tickSize":-5}}}},
{"data":{"name":"xp_spk"},"mark":{"type":"rule","color":"#666666","strokeWidth":1.6},"encoding":{"y2":{"field":"y2"}}},
{"data":{"name":"xp_band"},"mark":{"type":"line","color":"#111111","strokeWidth":4.2},"encoding":{"detail":{"field":"g"}}},
{"data":{"name":"xp_spk"},"transform":[{"filter":"datum.y>-2 && datum.y<1.9"}],"mark":{"type":"point","filled":true,"opacity":1,"color":"#333333","size":10}},
{"data":{"values":[{"x":59,"x2":318,"y":-2.75},{"x":604,"x2":850,"y":-2.8}]},"mark":{"type":"rule","color":"#7f98aa","strokeWidth":2.2},"encoding":{"x2":{"field":"x2"}}},
{"data":{"values":[{"x":75,"y":-2.75,"d":"l"},{"x":847,"y":-2.8,"d":"r"}]},"mark":{"type":"point","filled":true,"opacity":1,"color":"#4a74a8","size":420},"encoding":{"shape":{"field":"d","scale":{"domain":["l","r"],"range":["triangle-left","triangle-right"]},"legend":null}}},
{"data":{"values":[{"x":445,"y":-2.88,"t":"нагрев"}]},"mark":{"type":"text","font":"Open Sans","fontSize":30,"color":"#555555"},"encoding":{"text":{"field":"t"}}},
{"data":{"values":[{"x":423,"y":-8.54,"t":"X+"}]},"mark":{"type":"text","font":"Open Sans","fontWeight":"bold","fontSize":61,"color":"#000000","dy":5},"encoding":{"text":{"field":"t"}}}
]}
]}
